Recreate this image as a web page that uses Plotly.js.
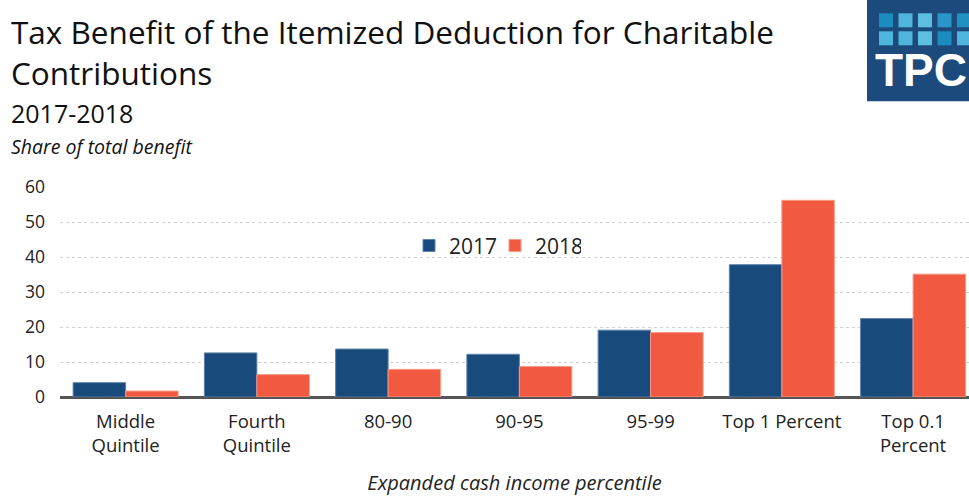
<!DOCTYPE html>
<html>
<head>
<meta charset="utf-8">
<script src="https://cdn.plot.ly/plotly-3.0.1.min.js"></script>
<style>
  html, body { margin: 0; padding: 0; background: #fff; }
  #chart { width: 969px; height: 496px; }
</style>
</head>
<body>
<div id="chart"></div>
<script>
// ---- Data ----
var categories = ["Middle<br>Quintile", "Fourth<br>Quintile", "80-90", "90-95", "95-99", "Top 1 Percent", "Top 0.1<br>Percent"];
var values2017 = [4.1, 12.6, 13.7, 12.2, 19.1, 37.8, 22.4];
var values2018 = [1.7, 6.4, 7.9, 8.7, 18.4, 56.2, 35.1];
var seriesNames = ["2017", "2018"];
var yTicks = [0, 10, 20, 30, 40, 50, 60];

// ---- Layout helpers (pixel -> paper) ----
var W = 969, H = 496;
var mL = 60, mR = 0, mT = 186.7, mB = 99.3;
var pw = W - mL - mR, ph = H - mT - mB;
function px(x) { return (x - mL) / pw; }
function py(y) { return (H - mB - y) / ph; }

var FONT = "'Open Sans', Lato, sans-serif";
var blue = "#184b7c", orange = "#f15a40";

var traces = [
  { type: "bar", name: seriesNames[0], x: categories, y: values2017,
    marker: { color: blue, line: { color: "#5f82a6", width: 1 } }, hoverinfo: "y" },
  { type: "bar", name: seriesNames[1], x: categories, y: values2018,
    marker: { color: orange, line: { color: "#f59a88", width: 1 } }, hoverinfo: "y" }
];

var logoSquares = [
  [0,0,"#1b8cbd"],[0,1,"#4fb5dc"],[0,2,"#5cbfe2"],[0,3,"#2a95c6"],[0,4,"#2191c2"],
  [1,0,"#4fb5dc"],[1,1,"#4fb5dc"],[1,2,"#5cbfe2"],[1,3,"#1b8cbd"],[1,4,"#4fb5dc"]
];
var shapes = [
  { type: "rect", xref: "paper", yref: "paper", x0: px(867), x1: px(975), y0: py(101), y1: py(-2),
    fillcolor: "#1c4a7c", line: { width: 0 }, layer: "above" }
];
logoSquares.forEach(function (s) {
  var x0 = 879 + s[1] * 19.5, y0 = 13 + s[0] * 18;
  shapes.push({ type: "rect", xref: "paper", yref: "paper", x0: px(x0), x1: px(x0 + 14),
    y0: py(y0 + 14), y1: py(y0), fillcolor: s[2], line: { width: 0 }, layer: "above" });
});

var annotations = [
  { text: "Tax Benefit of the Itemized Deduction for Charitable<br>Contributions", xref: "paper", yref: "paper",
    x: px(9), y: py(8), xanchor: "left", yanchor: "top", align: "left", showarrow: false,
    font: { family: FONT, size: 31.5, color: "#111" } },
  { text: "2017-2018", xref: "paper", yref: "paper", x: px(9), y: py(94), xanchor: "left", yanchor: "top",
    showarrow: false, font: { family: FONT, size: 25, color: "#111" } },
  { text: "<i>Share of total benefit</i>", xref: "paper", yref: "paper", x: px(9), y: py(131), xanchor: "left", yanchor: "top",
    showarrow: false, font: { family: FONT, size: 19.5, color: "#111" } },
  { text: "<b>TPC</b>", xref: "paper", yref: "paper", x: px(873), y: py(98), xanchor: "left", yanchor: "bottom",
    showarrow: false, font: { family: "'Liberation Sans', Arial, sans-serif", size: 46, color: "#ffffff" } }
];

var layout = {
  width: W, height: H,
  margin: { l: mL, r: mR, t: mT, b: mB, pad: 0 },
  paper_bgcolor: "#ffffff", plot_bgcolor: "#ffffff",
  font: { family: FONT, color: "#222" },
  barmode: "group", bargap: 0.2, bargroupgap: 0,
  showlegend: true,
  legend: { orientation: "h", x: px(409), y: py(225), xanchor: "left", yanchor: "top",
    font: { family: FONT, size: 21, color: "#222" }, bgcolor: "rgba(0,0,0,0)", itemwidth: 30,
    entrywidth: 41, entrywidthmode: "pixels" },
  xaxis: {
    type: "category", range: [-0.5, 6.426], fixedrange: true,
    showgrid: false, showline: true, linecolor: "#555", linewidth: 2,
    ticks: "", ticklabelstandoff: 7, tickfont: { family: FONT, size: 18.5, color: "#222" },
    title: { text: "<i>Expanded cash income percentile</i>", font: { family: FONT, size: 20, color: "#222" }, standoff: 22 }
  },
  yaxis: {
    range: [0, 60], tickvals: yTicks, ticktext: yTicks.map(String),
    showgrid: true, gridcolor: "#d0d0d0", griddash: "dot", gridwidth: 1,
    zeroline: true, zerolinecolor: "#555", zerolinewidth: 2,
    ticks: "", ticklabelstandoff: 14,
    tickfont: { family: FONT, size: 17.5, color: "#222" }
  },
  shapes: shapes,
  annotations: annotations
};

Plotly.newPlot("chart", traces, layout, { displayModeBar: false, staticPlot: true });
</script>
</body>
</html>
